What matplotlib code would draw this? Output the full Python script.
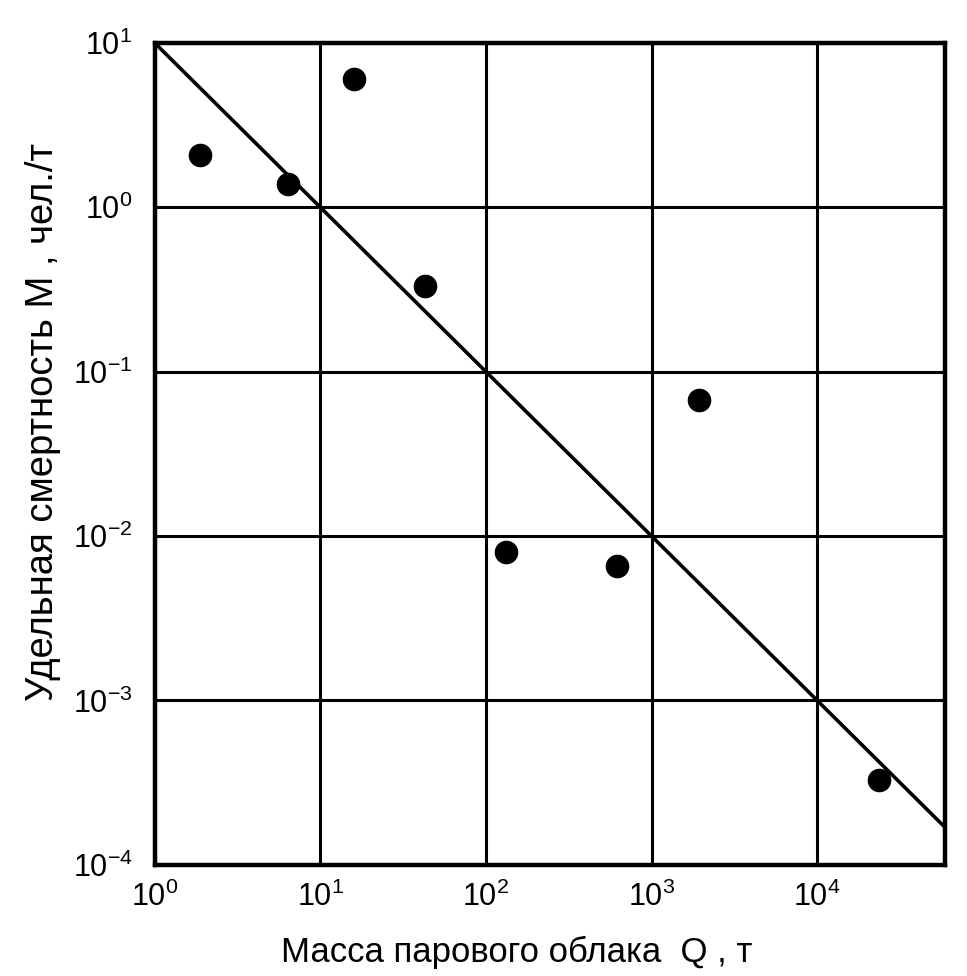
import numpy as np
import matplotlib
matplotlib.use('Agg')
import matplotlib.pyplot as plt
from matplotlib.ticker import FixedLocator, FuncFormatter, NullLocator

# Данные
Q_POINTS = [1.87, 6.4, 15.9, 42.8, 132, 619, 1936, 23700]
M_POINTS = [2.08, 1.39, 6.04, 0.333, 0.0080, 0.0066, 0.0673, 0.00033]
# Линия M = 10 / Q
LINE_Q = [1.0, 5.9e4]
LINE_M = [10.0, 10.0 / 5.9e4]

X_TICKS = [1e0, 1e1, 1e2, 1e3, 1e4]
Y_TICKS = [1e-4, 1e-3, 1e-2, 1e-1, 1e0, 1e1]

plt.rcParams['font.family'] = ['Liberation Sans', 'DejaVu Sans']
plt.rcParams['mathtext.default'] = 'regular'

fig = plt.figure(figsize=(9.67, 9.76), dpi=100)
ax = fig.add_axes([0.160, 0.114, 0.817, 0.842])

ax.set_xscale('log')
ax.set_yscale('log')
ax.set_xlim(1.0, 5.9e4)
ax.set_ylim(1e-4, 1e1)

ax.plot(LINE_Q, LINE_M, color='black', lw=2.6, solid_capstyle='butt')
ax.plot(Q_POINTS, M_POINTS, 'o', color='black', ms=16, clip_on=False)

def pow10(v, pos):
    e = int(round(np.log10(v)))
    return r'$\mathregular{10^{%d}}$' % e

ax.xaxis.set_major_locator(FixedLocator(X_TICKS))
ax.yaxis.set_major_locator(FixedLocator(Y_TICKS))
ax.xaxis.set_minor_locator(NullLocator())
ax.yaxis.set_minor_locator(NullLocator())
ax.xaxis.set_major_formatter(FuncFormatter(pow10))
ax.yaxis.set_major_formatter(FuncFormatter(pow10))
ax.tick_params(length=0, labelsize=22)
ax.tick_params(axis='x', pad=12)
ax.tick_params(axis='y', pad=16)

ax.grid(True, color='black', lw=2.2)
for s in ax.spines.values():
    s.set_linewidth(3.2)

ax.set_xlabel('Масса парового облака  Q , т', fontsize=25)
ax.set_ylabel('Удельная смертность М , чел./т', fontsize=27.5)
ax.xaxis.set_label_coords(0.458, -0.087)
ax.yaxis.set_label_coords(-0.118, 0.539)

fig.savefig('out.png', dpi=100)
